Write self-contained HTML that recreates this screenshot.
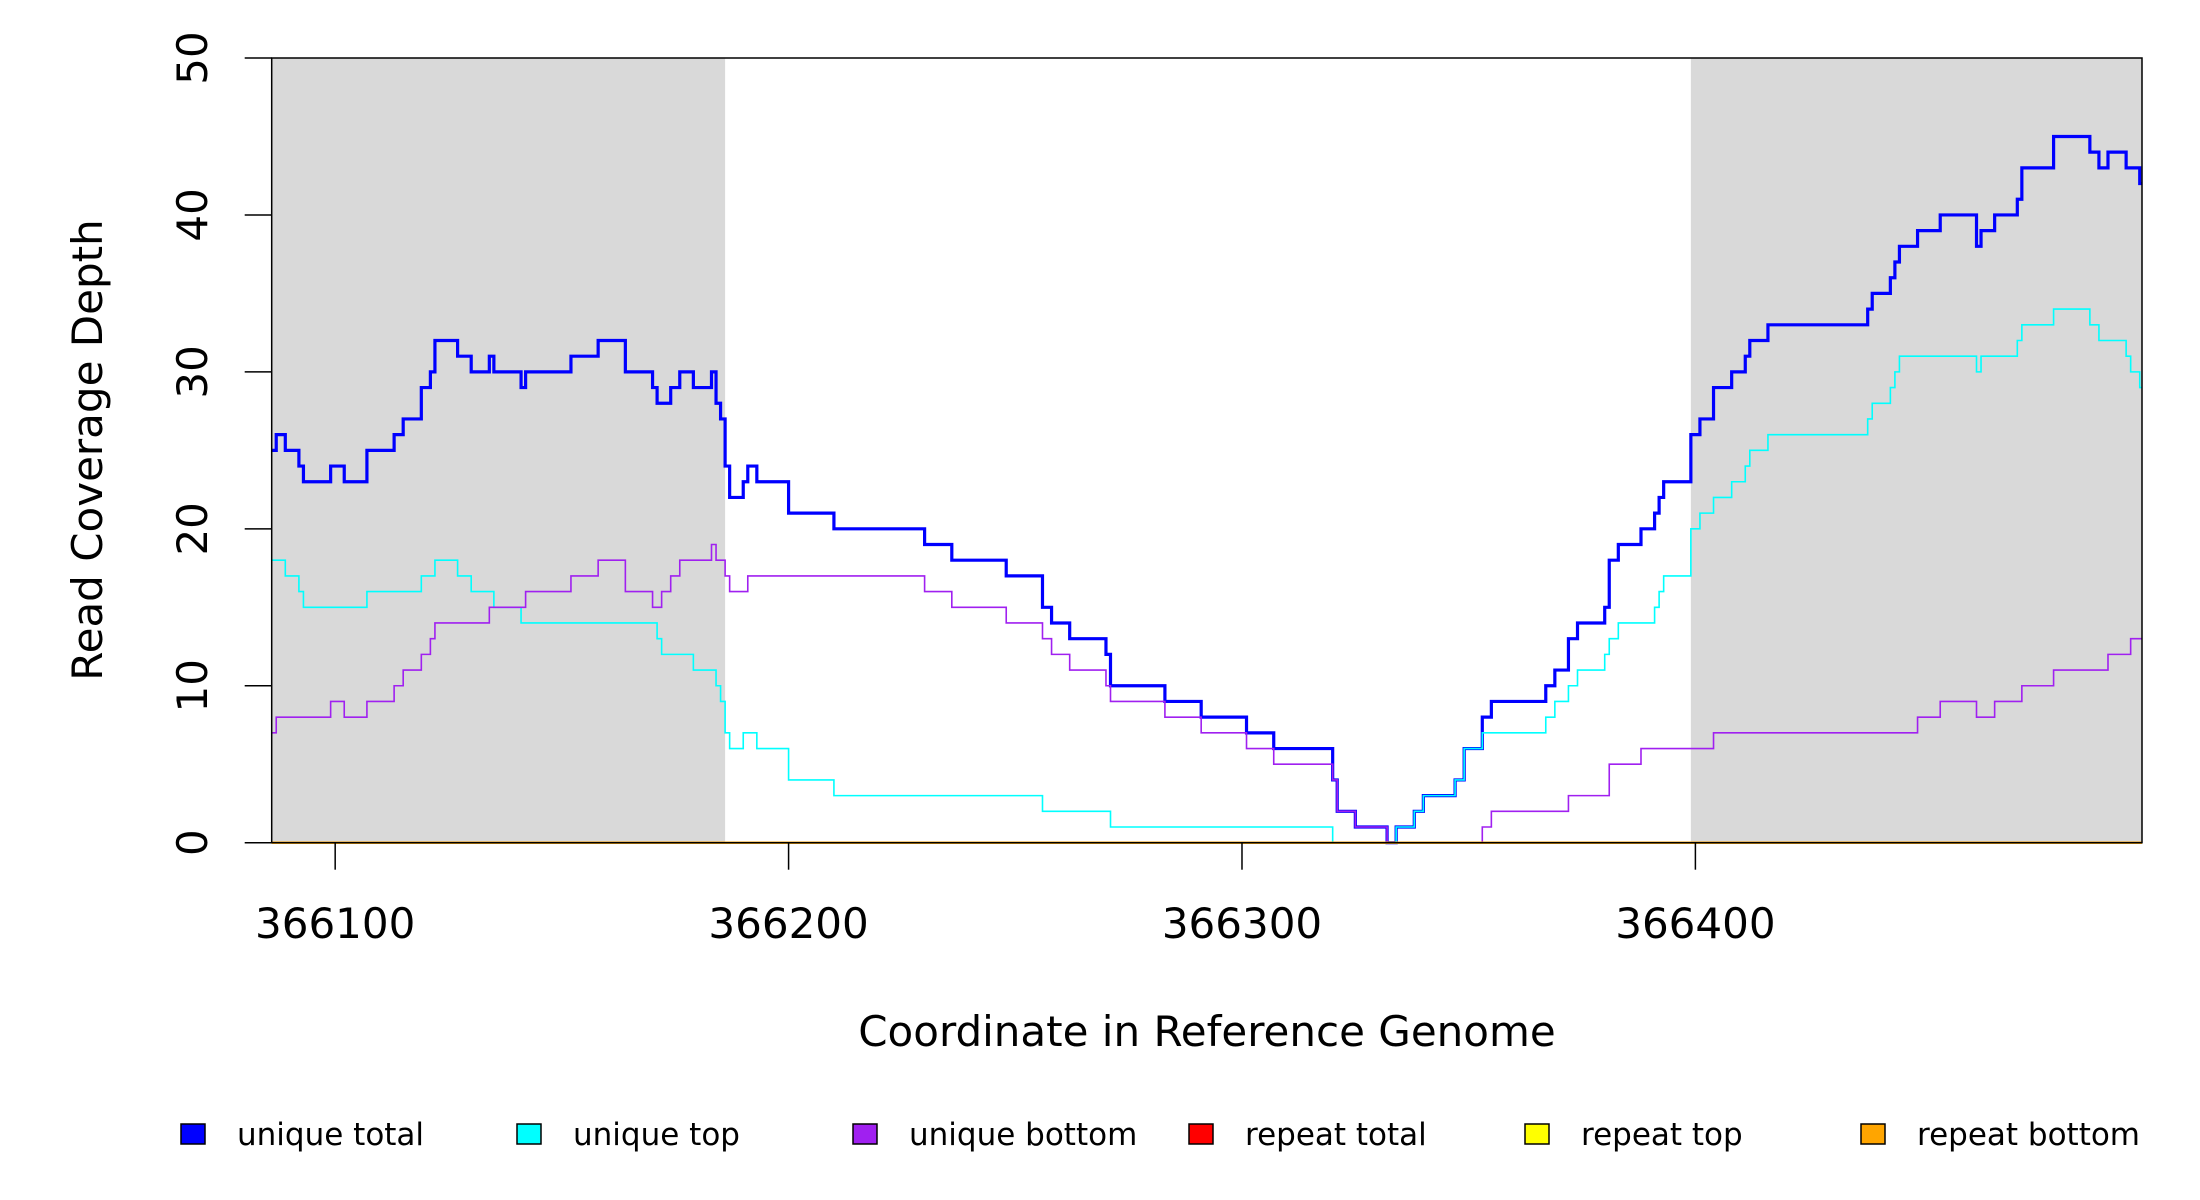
<!DOCTYPE html>
<html><head><meta charset="utf-8"><style>
html,body{margin:0;padding:0;background:#fff;}
svg{display:block;font-family:"DejaVu Sans","Liberation Sans",sans-serif;}
</style></head><body>
<svg id="chart" width="2200" height="1200" viewBox="0 0 2200 1200" xmlns="http://www.w3.org/2000/svg">
<g id="shade"></g>
<g id="series"></g>
<rect x="271.7" y="58" width="1870.3" height="784.7" fill="none" stroke="#000" stroke-width="1.5"/>
<g id="xaxis"></g>
<g id="yaxis"></g>
<text x="1207" y="1046" font-size="42" text-anchor="middle">Coordinate in Reference Genome</text>
<text transform="translate(102,450) rotate(-90)" font-size="42" text-anchor="middle">Read Coverage Depth</text>
<g id="legend"></g>
</svg>
<script>
const xTicks = [366100, 366200, 366300, 366400];
const yTicks = [0, 10, 20, 30, 40, 50];
const shadeRegions = [[366086, 366186], [366399, 366498.5]];
const domainEnd = 366498.5;
const totalPos = [366086,366087,366089,366092,366093,366099,366102,366107,366113,366115,366119,366121,366122,366127,366130,366134,366135,366141,366142,366152,366158,366164,366170,366171,366174,366176,366179,366183,366184,366185,366186,366187,366190,366191,366193,366200,366210,366230,366236,366248,366256,366258,366262,366270,366271,366283,366291,366301,366307,366320,366321,366325,366332,366334,366338,366340,366347,366349,366353,366355,366367,366369,366372,366374,366380,366381,366383,366388,366391,366392,366393,366399,366401,366404,366408,366411,366412,366416,366438,366439,366443,366444,366445,366449,366454,366462,366463,366466,366471,366472,366479,366487,366489,366491,366495,366498];
const totalVal = [25,26,25,24,23,24,23,25,26,27,29,30,32,31,30,31,30,29,30,31,32,30,29,28,29,30,29,30,28,27,24,22,23,24,23,21,20,19,18,17,15,14,13,12,10,9,8,7,6,4,2,1,0,1,2,3,4,6,8,9,10,11,13,14,15,18,19,20,21,22,23,26,27,29,30,31,32,33,34,35,36,37,38,39,40,38,39,40,41,43,45,44,43,44,43,42];
const topPos = [366086,366089,366092,366093,366107,366119,366122,366127,366130,366135,366141,366171,366172,366179,366184,366185,366186,366187,366190,366193,366200,366210,366256,366271,366320,366334,366338,366340,366347,366349,366353,366367,366369,366372,366374,366380,366381,366383,366391,366392,366393,366399,366401,366404,366408,366411,366412,366416,366438,366439,366443,366444,366445,366462,366463,366471,366472,366479,366487,366489,366495,366496,366498];
const topVal = [18,17,16,15,16,17,18,17,16,15,14,13,12,11,10,9,7,6,7,6,4,3,2,1,0,1,2,3,4,6,7,8,9,10,11,12,13,14,15,16,17,20,21,22,23,24,25,26,27,28,29,30,31,30,31,32,33,34,33,32,31,30,29];
const botPos = [366086,366087,366099,366102,366107,366113,366115,366119,366121,366122,366134,366142,366152,366158,366164,366170,366172,366174,366176,366183,366184,366186,366187,366191,366230,366236,366248,366256,366258,366262,366270,366271,366283,366291,366301,366307,366320,366321,366325,366332,366353,366355,366372,366381,366388,366404,366449,366454,366462,366466,366472,366479,366491,366496];
const botVal = [7,8,9,8,9,10,11,12,13,14,15,16,17,18,16,15,16,17,18,19,18,17,16,17,16,15,14,13,12,11,10,9,8,7,6,5,4,2,1,0,1,2,3,5,6,7,8,9,8,9,10,11,12,13];
const repPos = [366086];
const repTotalVal = [0];
const repTopVal = [0];
const repBotVal = [0];
const legendLabels = ["unique total","unique top","unique bottom","repeat total","repeat top","repeat bottom"];

const X0 = 366086, X1 = domainEnd, PX0 = 271.7, PX1 = 2142;
const Y0 = 0, Y1 = 50, PY0 = 842.7, PY1 = 58;
function xs(v){ return PX0 + (v - X0) * (PX1 - PX0) / (X1 - X0); }
function ys(v){ return PY0 + (v - Y0) * (PY1 - PY0) / (Y1 - Y0); }
const NS = "http://www.w3.org/2000/svg";
function mk(tag, parent){ const e = document.createElementNS(NS, tag); parent.appendChild(e); return e; }

const shade = document.getElementById('shade');
shadeRegions.forEach(r => {
  const e = mk('rect', shade);
  
  
  e.setAttribute('x', xs(r[0])); e.setAttribute('y', PY1);
  e.setAttribute('width', xs(r[1]) - xs(r[0])); e.setAttribute('height', PY0 - PY1);
  e.setAttribute('fill', '#d9d9d9');
});

function stepPath(pos, val){
  let d = 'M' + xs(pos[0]).toFixed(2) + ',' + ys(val[0]).toFixed(2);
  for (let i = 1; i < pos.length; i++){
    d += 'H' + xs(pos[i]).toFixed(2) + 'V' + ys(val[i]).toFixed(2);
  }
  d += 'H' + xs(X1).toFixed(2);
  return d;
}
const seriesG = document.getElementById('series');
const seriesDefs = [
  [totalPos, totalVal, '#0000ff', 3.2, 'unique-total-line'],
  [topPos, topVal, '#00ffff', 1.6, 'unique-top-line'],
  [botPos, botVal, '#a020f0', 1.6, 'unique-bottom-line'],
  [repPos, repTotalVal, '#ff0000', 2, 'repeat-total-line'],
  [repPos, repTopVal, '#ffff00', 2, 'repeat-top-line'],
  [repPos, repBotVal, '#ffa500', 2.4, 'repeat-bottom-line']
];
seriesDefs.forEach(s => {
  const p = mk('path', seriesG);
  
  
  p.setAttribute('d', stepPath(s[0], s[1]));
  p.setAttribute('fill', 'none');
  p.setAttribute('stroke', s[2]);
  p.setAttribute('stroke-width', s[3]);
});

const xa = document.getElementById('xaxis');
xTicks.forEach(t => {
  const l = mk('line', xa);
  
  
  l.setAttribute('x1', xs(t)); l.setAttribute('x2', xs(t));
  l.setAttribute('y1', PY0); l.setAttribute('y2', PY0 + 27);
  l.setAttribute('stroke', '#000'); l.setAttribute('stroke-width', 1.5);
  const tx = mk('text', xa);
  
  
  tx.setAttribute('x', xs(t)); tx.setAttribute('y', 938);
  tx.setAttribute('font-size', 42); tx.setAttribute('text-anchor', 'middle');
  tx.textContent = t;
});
const ya = document.getElementById('yaxis');
yTicks.forEach(t => {
  const l = mk('line', ya);
  
  
  l.setAttribute('x1', PX0 - 27); l.setAttribute('x2', PX0);
  l.setAttribute('y1', ys(t)); l.setAttribute('y2', ys(t));
  l.setAttribute('stroke', '#000'); l.setAttribute('stroke-width', 1.5);
  const tx = mk('text', ya);
  
  
  tx.setAttribute('transform', 'translate(207,' + ys(t) + ') rotate(-90)');
  tx.setAttribute('font-size', 42); tx.setAttribute('text-anchor', 'middle');
  tx.textContent = t;
});

const leg = document.getElementById('legend');
const legColors = ['#0000ff','#00ffff','#a020f0','#ff0000','#ffff00','#ffa500'];
legendLabels.forEach((lab, i) => {
  const x = 181 + i * 336;
  const r = mk('rect', leg);
  
  
  r.setAttribute('x', x); r.setAttribute('y', 1124);
  r.setAttribute('width', 24); r.setAttribute('height', 20);
  r.setAttribute('fill', legColors[i]); r.setAttribute('stroke', '#000'); r.setAttribute('stroke-width', 1.5);
  const tx = mk('text', leg);
  
  
  tx.setAttribute('x', x + 56); tx.setAttribute('y', 1145);
  tx.setAttribute('font-size', 31);
  tx.textContent = lab;
});
</script>
</body></html>
